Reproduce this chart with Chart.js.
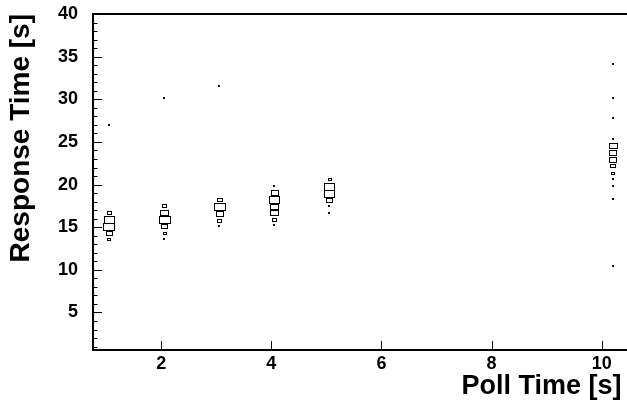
<!DOCTYPE html>
<html>
<head>
<meta charset="utf-8">
<script src="https://cdn.jsdelivr.net/npm/chart.js@4/dist/chart.umd.min.js"></script>
<style>
  html, body { margin: 0; padding: 0; background: #fff; overflow: hidden; }
  #wrap { width: 627px; height: 411px; position: relative; }
</style>
</head>
<body>
<div id="wrap"><canvas id="c"></canvas></div>
<script>
// Poll time of each column (s)
const pollTimes = [1.05, 2.05, 3.05, 4.05, 5.05, 10.2];

// Response-time bin centres (s) and entries per bin, one pair per poll time
const resp1  = [27.0, 16.75, 15.95, 15.1, 14.3, 13.6];
const count1 = [1, 4, 10, 11, 6, 3];

const resp2  = [30.1, 17.55, 16.75, 15.9, 15.1, 14.35, 13.6];
const count2 = [1, 4, 8, 11, 6, 3, 1];

const resp3  = [31.6, 18.25, 17.45, 16.65, 15.85, 15.1];
const count3 = [1, 5, 11, 7, 4, 1];

const resp4  = [19.85, 19.05, 18.25, 17.45, 16.7, 15.9, 15.2];
const count4 = [1, 7, 10, 8, 8, 4, 2];

const resp5  = [20.65, 19.85, 19.0, 18.2, 17.5, 16.7];
const count5 = [3, 10, 10, 6, 1, 1];

const resp10  = [34.1, 30.1, 27.8, 25.35, 24.55, 23.8, 23.0, 22.2, 21.4, 20.6, 19.85, 18.25, 10.4];
const count10 = [1, 1, 1, 2, 8, 7, 7, 5, 3, 1, 1, 1, 1];

// Axis ranges and labelled ticks
const xRange = [0.76, 10.46];
const yRange = [0.6, 40];
const xTickValues = [2, 4, 6, 8, 10];
const yTickValues = [5, 10, 15, 20, 25, 30, 35, 40];

// Bin size of the 2-D histogram (s)
const binW = 0.2;
const binH = 0.85;

const columns = [
  [resp1, count1], [resp2, count2], [resp3, count3],
  [resp4, count4], [resp5, count5], [resp10, count10]
];
const points = [];
columns.forEach(([ys, cs], i) => {
  ys.forEach((y, j) => points.push({ x: pollTimes[i], y: y, c: cs[j] }));
});
const maxCount = Math.max(...points.map(p => p.c));

// Draws each cell as a box whose size follows its content
const boxPlugin = {
  id: 'boxCells',
  afterDatasetsDraw(chart) {
    const { ctx, scales: { x: xs, y: ys } } = chart;
    ctx.save();
    ctx.beginPath();
    ctx.rect(chart.chartArea.left, chart.chartArea.top,
             chart.chartArea.right - chart.chartArea.left,
             chart.chartArea.bottom - chart.chartArea.top);
    ctx.clip();
    chart.data.datasets.forEach(ds => {
      ds.data.forEach(p => {
        const f = p.c / maxCount;
        const x0 = xs.getPixelForValue(p.x - binW * f / 2);
        const x1 = xs.getPixelForValue(p.x + binW * f / 2);
        const y0 = ys.getPixelForValue(p.y + binH * f / 2);
        const y1 = ys.getPixelForValue(p.y - binH * f / 2);
        const w = x1 - x0, h = y1 - y0;
        ctx.strokeStyle = '#000';
        ctx.fillStyle = '#111';
        ctx.lineWidth = 1;
        if (w < 3) {
          const cx = (x0 + x1) / 2, cy = (y0 + y1) / 2;
          ctx.fillRect(Math.round(cx - 1), Math.round(cy - 1), 2, 2);
        } else {
          ctx.strokeRect(Math.round(x0) + 0.5, Math.round(y0) + 0.5,
                         Math.max(1, Math.round(w)), Math.max(1, Math.round(h)));
        }
      });
    });
    ctx.restore();
  }
};

// Inward tick marks and the upper frame line
const framePlugin = {
  id: 'frameTicks',
  afterDraw(chart) {
    const { ctx, chartArea: a, scales: { x: xs, y: ys } } = chart;
    ctx.save();
    ctx.strokeStyle = '#000';
    ctx.lineWidth = 1;
    ctx.beginPath();
    xTickValues.forEach(v => {
      const px = Math.round(xs.getPixelForValue(v)) + 0.5;
      ctx.moveTo(px, a.bottom);
      ctx.lineTo(px, a.bottom - 9);
    });
    for (let v = Math.ceil(yRange[0]); v <= yRange[1]; v++) {
      const py = Math.round(ys.getPixelForValue(v)) + 0.5;
      const len = (v % 5 === 0) ? 9 : 4.5;
      ctx.moveTo(a.left, py);
      ctx.lineTo(a.left + len, py);
    }
    ctx.stroke();
    ctx.lineWidth = 2;
    ctx.beginPath();
    ctx.moveTo(a.left - 1, a.top);
    ctx.lineTo(a.right, a.top);
    ctx.stroke();
    ctx.restore();
  }
};

Chart.defaults.font.family = "'Liberation Sans', Arial, Helvetica, sans-serif";
Chart.defaults.font.weight = 'bold';
Chart.defaults.color = '#000';

new Chart(document.getElementById('c'), {
  type: 'scatter',
  data: {
    datasets: [{
      label: 'Response time',
      data: points,
      pointRadius: 0,
      pointHoverRadius: 0
    }]
  },
  options: {
    responsive: true,
    maintainAspectRatio: false,
    animation: false,
    events: [],
    layout: { padding: { top: 14, right: 0, left: 0, bottom: 0 } },
    plugins: { legend: { display: false }, tooltip: { enabled: false } },
    scales: {
      x: {
        type: 'linear',
        min: xRange[0],
        max: xRange[1],
        afterBuildTicks: s => { s.ticks = xTickValues.map(v => ({ value: v })); },
        afterFit: s => { s.height = 61; s.paddingLeft = 0; s.paddingRight = 0; },
        ticks: { font: { size: 18, weight: 'bold' }, padding: 3, maxRotation: 0, autoSkip: false },
        grid: { display: true, drawOnChartArea: false, drawTicks: false },
        border: { display: true, color: '#000', width: 2 },
        title: {
          display: true,
          text: 'Poll Time [s]\u2009',
          align: 'end',
          font: { size: 27, weight: 'bold' },
          padding: { top: 0, bottom: 8 }
        }
      },
      y: {
        type: 'linear',
        min: yRange[0],
        max: yRange[1],
        afterBuildTicks: s => { s.ticks = yTickValues.map(v => ({ value: v })); },
        afterFit: s => { s.width = 93; s.paddingTop = 0; s.paddingBottom = 0; },
        ticks: { font: { size: 18, weight: 'bold' }, padding: 15, autoSkip: false },
        grid: { display: true, drawOnChartArea: false, drawTicks: false },
        border: { display: true, color: '#000', width: 2 },
        title: {
          display: true,
          text: 'Response Time [s]',
          align: 'end',
          font: { size: 28, weight: 'bold' },
          padding: { top: 4, bottom: 0 }
        }
      }
    }
  },
  plugins: [boxPlugin, framePlugin]
});
</script>
</body>
</html>
